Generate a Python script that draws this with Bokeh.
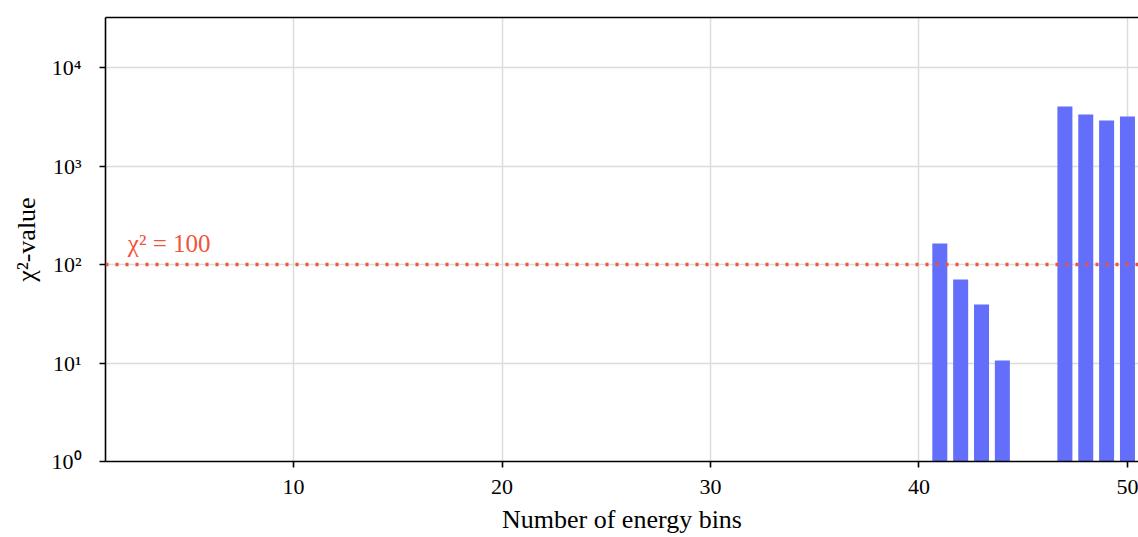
from bokeh.plotting import figure
from bokeh.models import Range1d, Span, Label, LinearAxis, FixedTicker, ColumnDataSource
from bokeh.embed import file_html
from bokeh.resources import INLINE

bins = [41, 42, 43, 44, 47, 48, 49, 50]
chi2 = [163, 70.4, 39.3, 10.6, 4020, 3335, 2897, 3183]
threshold = 100
x_ticks = [10, 20, 30, 40, 50]
y_ticks = [1, 10, 100, 1000, 10000]
y_tick_labels = ["10⁰", "10¹", "10²", "10³", "10⁴"]

FONT = "Liberation Serif"
BAR = "#636EFA"
RED = "#EF553B"

p = figure(width=1138, height=537, output_backend="svg", toolbar_location=None,
           y_axis_type="log",
           x_range=Range1d(0.98, 50.53), y_range=Range1d(1, 32200),
           min_border_left=105, min_border_right=0, min_border_top=17, min_border_bottom=76)
p.outline_line_color = None
p.background_fill_color = "white"

src = ColumnDataSource(dict(x=bins, top=chi2, bottom=[1] * len(bins)))
p.vbar(x="x", top="top", bottom="bottom", width=0.72, source=src,
       fill_color=BAR, line_color=None)

span = Span(location=threshold, dimension="width", line_color=RED,
            line_width=3.5, line_dash="3 7")
p.add_layout(span)

lab = Label(x=2.05, y=threshold, text="χ² = 100", text_color=RED,
            text_font=FONT, text_font_size="25px", y_offset=8,
            text_baseline="bottom", text_align="left")
p.add_layout(lab)

for ax in (p.xaxis[0], p.yaxis[0]):
    ax.axis_line_color = "black"
    ax.axis_line_width = 1.6
    ax.major_tick_line_color = "black"
    ax.major_tick_line_width = 1.6
    ax.major_tick_out = 6
    ax.major_tick_in = 0
    ax.minor_tick_line_color = None
    ax.major_label_text_font = FONT
    ax.major_label_text_font_size = "22px"
    ax.major_label_text_color = "black"
    ax.axis_label_text_font = FONT
    ax.axis_label_text_font_size = "26px"
    ax.axis_label_text_font_style = "normal"
    ax.axis_label_text_color = "black"

p.xaxis[0].ticker = FixedTicker(ticks=x_ticks)
p.xaxis[0].axis_label = "Number of energy bins"
p.xaxis[0].major_label_standoff = 12
p.xaxis[0].axis_label_standoff = 8
p.yaxis[0].ticker = FixedTicker(ticks=y_ticks)
p.yaxis[0].major_label_overrides = {t: l for t, l in zip(y_ticks, y_tick_labels)}
p.yaxis[0].axis_label = "χ²-value"
p.yaxis[0].major_label_standoff = 18
p.yaxis[0].axis_label_standoff = 8

top = LinearAxis(major_tick_line_color=None, minor_tick_line_color=None,
                 major_label_text_font_size="0px", axis_line_color="black",
                 axis_line_width=1.6, ticker=FixedTicker(ticks=[]))
p.add_layout(top, "above")

p.xgrid.ticker = FixedTicker(ticks=x_ticks)
p.ygrid.ticker = FixedTicker(ticks=y_ticks)
for g in (p.xgrid[0], p.ygrid[0]):
    g.grid_line_color = "#dcdcdc"
    g.grid_line_width = 1.5
    g.level = "underlay"

open("out.html", "w").write(file_html(p, INLINE))
